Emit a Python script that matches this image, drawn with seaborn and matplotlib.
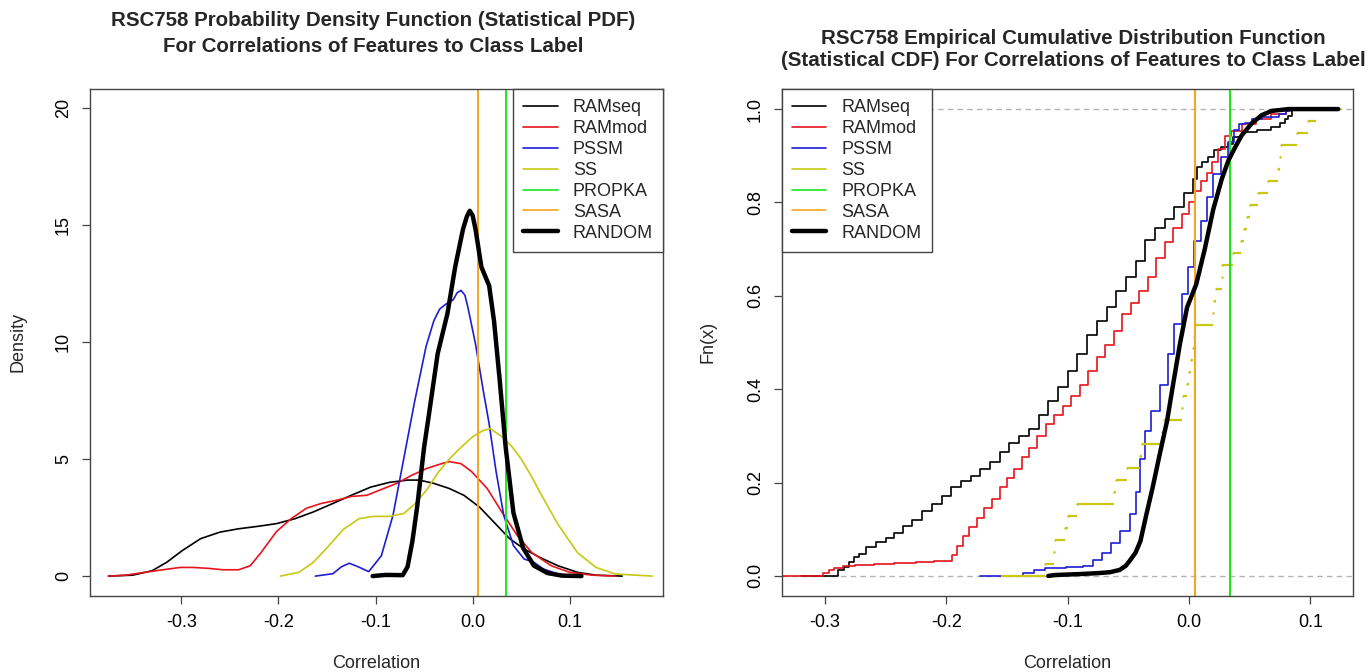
import matplotlib
matplotlib.use("Agg")
import matplotlib.pyplot as plt
from matplotlib.lines import Line2D
import pandas as pd
import seaborn as sns

# ---- density curves (left panel) ----
pdf_ramseq_x = [-0.375, -0.350, -0.330, -0.315, -0.299, -0.280, -0.260, -0.241, -0.222, -0.202,
                -0.183, -0.164, -0.144, -0.125, -0.105, -0.086, -0.067, -0.055, -0.040, -0.024,
                -0.009, 0.007, 0.022, 0.038, 0.053, 0.069, 0.088, 0.108, 0.127, 0.154]
pdf_ramseq_y = [0.0, 0.04, 0.23, 0.59, 1.09, 1.6, 1.88, 2.02, 2.12, 2.24,
                2.45, 2.74, 3.1, 3.45, 3.8, 4.0, 4.1, 4.1, 3.96, 3.74,
                3.45, 2.95, 2.3, 1.6, 1.16, 0.8, 0.44, 0.16, 0.04, 0.0]

pdf_rammod_x = [-0.375, -0.357, -0.338, -0.319, -0.301, -0.288, -0.272, -0.257, -0.241, -0.229,
                -0.218, -0.202, -0.187, -0.171, -0.156, -0.140, -0.125, -0.109, -0.094, -0.078,
                -0.063, -0.047, -0.032, -0.024, -0.012, -0.001, 0.015, 0.030, 0.046, 0.061,
                0.081, 0.100, 0.123, 0.147]
pdf_rammod_y = [0.0, 0.04, 0.16, 0.27, 0.37, 0.37, 0.33, 0.27, 0.27, 0.44,
                1.0, 1.9, 2.45, 2.9, 3.1, 3.24, 3.4, 3.45, 3.7, 3.96,
                4.3, 4.6, 4.8, 4.89, 4.8, 4.46, 3.74, 2.74, 1.73, 1.0,
                0.44, 0.16, 0.04, 0.0]

pdf_pssm_x = [-0.162, -0.144, -0.135, -0.127, -0.118, -0.107, -0.094, -0.082, -0.071, -0.060,
              -0.048, -0.040, -0.034, -0.028, -0.020, -0.016, -0.012, -0.008, -0.005, 0.003,
              0.011, 0.017, 0.024, 0.032, 0.042, 0.053, 0.063, 0.073, 0.088, 0.108]
pdf_pssm_y = [0.0, 0.1, 0.4, 0.55, 0.4, 0.19, 0.87, 2.6, 5.0, 7.4,
              9.8, 10.9, 11.4, 11.6, 11.8, 12.1, 12.2, 12.0, 11.5, 9.9,
              7.9, 6.5, 4.5, 2.6, 1.3, 0.73, 0.59, 0.3, 0.09, 0.0]

pdf_ss_x = [-0.198, -0.179, -0.164, -0.148, -0.133, -0.117, -0.102, -0.086, -0.071, -0.059,
            -0.047, -0.036, -0.024, -0.012, 0.0, 0.010, 0.018, 0.030, 0.040, 0.050,
            0.060, 0.069, 0.088, 0.108, 0.127, 0.147, 0.185]
pdf_ss_y = [0.0, 0.16, 0.59, 1.3, 2.0, 2.45, 2.55, 2.55, 2.67, 3.1,
            3.7, 4.4, 5.0, 5.5, 5.95, 6.2, 6.3, 5.96, 5.55, 5.0,
            4.3, 3.6, 2.2, 1.0, 0.37, 0.09, 0.0]

pdf_random_x = [-0.103, -0.090, -0.072, -0.067, -0.062, -0.057, -0.050, -0.045, -0.036, -0.026,
                -0.018, -0.010, -0.006, -0.003, 0.000, 0.003, 0.009, 0.013, 0.017, 0.022,
                0.028, 0.034, 0.042, 0.052, 0.063, 0.077, 0.092, 0.112]
pdf_random_y = [0.0, 0.05, 0.04, 0.4, 1.5, 3.0, 5.5, 6.9, 9.5, 11.2,
                13.2, 14.8, 15.35, 15.6, 15.4, 14.8, 13.2, 12.8, 12.4, 10.9,
                8.3, 5.5, 2.7, 1.2, 0.45, 0.13, 0.02, 0.0]

# single-value features, drawn as vertical lines
propka_corr = 0.034
sasa_corr = 0.005

# ---- empirical CDF knots (right panel) ----
cdf_ramseq_x = [-0.320, -0.289, -0.284, -0.280, -0.276, -0.272, -0.266, -0.258, -0.250, -0.243,
                -0.236, -0.228, -0.220, -0.212, -0.204, -0.196, -0.188, -0.180, -0.172, -0.164,
                -0.156, -0.148, -0.140, -0.132, -0.124, -0.116, -0.108, -0.100, -0.092, -0.084,
                -0.076, -0.068, -0.060, -0.052, -0.044, -0.036, -0.028, -0.020, -0.012, -0.004,
                0.003, 0.007, 0.011, 0.016, 0.021, 0.026, 0.032, 0.036, 0.044, 0.056,
                0.068, 0.075, 0.079, 0.082, 0.085, 0.115]
cdf_ramseq_f = [0.0, 0.012, 0.02, 0.03, 0.04, 0.048, 0.062, 0.072, 0.082, 0.092,
                0.106, 0.12, 0.138, 0.155, 0.172, 0.19, 0.203, 0.215, 0.228, 0.245,
                0.265, 0.285, 0.30, 0.315, 0.345, 0.375, 0.405, 0.44, 0.475, 0.515,
                0.545, 0.575, 0.61, 0.64, 0.675, 0.72, 0.745, 0.765, 0.79, 0.82,
                0.85, 0.875, 0.886, 0.898, 0.912, 0.918, 0.925, 0.94, 0.951, 0.956,
                0.962, 0.970, 0.979, 0.986, 1.0, 1.0]

cdf_rammod_x = [-0.345, -0.302, -0.297, -0.293, -0.285, -0.275, -0.260, -0.243, -0.225, -0.210,
                -0.198, -0.195, -0.191, -0.186, -0.181, -0.175, -0.169, -0.162, -0.156, -0.150,
                -0.144, -0.138, -0.132, -0.125, -0.118, -0.111, -0.104, -0.097, -0.090, -0.083,
                -0.076, -0.069, -0.062, -0.055, -0.048, -0.041, -0.034, -0.027, -0.020, -0.013,
                -0.006, 0.000, 0.005, 0.010, 0.015, 0.019, 0.024, 0.030, 0.035, 0.044,
                0.055, 0.068, 0.080, 0.082, 0.112]
cdf_rammod_f = [0.0, 0.006, 0.012, 0.018, 0.021, 0.023, 0.025, 0.027, 0.029, 0.031,
                0.033, 0.045, 0.065, 0.085, 0.105, 0.125, 0.145, 0.165, 0.19, 0.21,
                0.23, 0.255, 0.275, 0.30, 0.325, 0.345, 0.365, 0.385, 0.41, 0.44,
                0.47, 0.495, 0.525, 0.56, 0.585, 0.61, 0.64, 0.68, 0.715, 0.745,
                0.775, 0.80, 0.825, 0.845, 0.862, 0.886, 0.914, 0.943, 0.953, 0.968,
                0.979, 0.989, 0.996, 1.0, 1.0]

cdf_pssm_x = [-0.172, -0.137, -0.128, -0.119, -0.101, -0.087, -0.079, -0.072, -0.064, -0.057,
              -0.049, -0.044, -0.040, -0.036, -0.031, -0.024, -0.017, -0.012, -0.006, -0.001,
              0.004, 0.0096, 0.015, 0.020, 0.026, 0.032, 0.037, 0.041, 0.046, 0.052,
              0.060, 0.074, 0.080, 0.083, 0.100]
cdf_pssm_f = [0.0, 0.006, 0.012, 0.016, 0.019, 0.021, 0.035, 0.05, 0.07, 0.097,
              0.133, 0.18, 0.25, 0.31, 0.354, 0.41, 0.476, 0.54, 0.604, 0.661,
              0.718, 0.761, 0.811, 0.86, 0.897, 0.93, 0.955, 0.968, 0.970, 0.979,
              0.982, 0.989, 0.996, 1.0, 1.0]

# SS has few values: the jump positions of its step function
cdf_ss_jumps = [-0.119, -0.111, -0.1105, -0.102, -0.100, -0.092, -0.062, -0.060, -0.051, -0.040,
                -0.039, -0.022, -0.021, -0.006, -0.005, -0.002, 0.000, 0.002, 0.003, 0.004,
                0.005, 0.020, 0.021, 0.022, 0.027, 0.0275, 0.036, 0.043, 0.045, 0.048,
                0.050, 0.057, 0.065, 0.073, 0.075, 0.076, 0.089, 0.098, 0.105]
cdf_ss_span = [-0.155, 0.125]

cdf_random_x = [-0.116, -0.110, -0.090, -0.075, -0.065, -0.057, -0.052, -0.049, -0.044, -0.040,
                -0.035, -0.030, -0.024, -0.018, -0.013, -0.0074, -0.0016, 0.006, 0.013, 0.020,
                0.027, 0.0325, 0.038, 0.0435, 0.052, 0.060, 0.068, 0.082, 0.123]
cdf_random_f = [0.0, 0.002, 0.004, 0.006, 0.008, 0.013, 0.022, 0.032, 0.05, 0.075,
                0.133, 0.189, 0.262, 0.333, 0.412, 0.498, 0.575, 0.625, 0.70, 0.785,
                0.85, 0.89, 0.918, 0.944, 0.970, 0.987, 0.996, 1.0, 1.0]

legend_names = ["RAMseq", "RAMmod", "PSSM", "SS", "PROPKA", "SASA", "RANDOM"]
colors = {"RAMseq": "black", "RAMmod": "#E8141C", "PSSM": "#1E1ED2", "SS": "#C8C814",
          "PROPKA": "#1EE61E", "SASA": "#F5A623", "RANDOM": "black"}
THIN = 1.2
THICK = 3.2

sns.set_theme(style="white")
plt.rcParams["font.family"] = ["Liberation Sans", "DejaVu Sans"]

fig = plt.figure(figsize=(13.69, 6.72), dpi=100)
ax1 = fig.add_axes([90 / 1369, 1 - 596 / 672, 573 / 1369, 507 / 672])
ax2 = fig.add_axes([782 / 1369, 1 - 596 / 672, 571 / 1369, 507 / 672])


def style_axes(ax):
    for sp in ax.spines.values():
        sp.set_color("#444444")
        sp.set_linewidth(1.0)
    ax.tick_params(axis="both", which="major", direction="out", length=6, width=0.9,
                   color="#444444", labelsize=13, labelcolor="black", pad=7,
                   bottom=True, left=True)
    for lbl in ax.get_yticklabels():
        lbl.set_rotation(90)
        lbl.set_va("center")


def add_legend(ax, loc):
    handles = [Line2D([], [], color=colors[n], lw=THICK if n == "RANDOM" else THIN)
               for n in legend_names]
    leg = ax.legend(handles, legend_names, loc=loc, borderaxespad=0, fontsize=13,
                    handlelength=1.9, handletextpad=0.85, labelspacing=0.22,
                    borderpad=0.55, fancybox=False, framealpha=1, edgecolor="#444444")
    leg.get_frame().set_linewidth(1.0)


# ---- left: density ----
pdf_sets = [("RAMseq", pdf_ramseq_x, pdf_ramseq_y), ("RAMmod", pdf_rammod_x, pdf_rammod_y),
            ("PSSM", pdf_pssm_x, pdf_pssm_y), ("SS", pdf_ss_x, pdf_ss_y)]
for name, xs, ys in pdf_sets:
    df = pd.DataFrame({"x": xs, "y": ys})
    sns.lineplot(data=df, x="x", y="y", ax=ax1, color=colors[name], lw=THIN,
                 estimator=None, sort=False)
ax1.axvline(propka_corr, color=colors["PROPKA"], lw=THIN + 0.2)
ax1.axvline(sasa_corr, color=colors["SASA"], lw=THIN + 0.2)
df = pd.DataFrame({"x": pdf_random_x, "y": pdf_random_y})
sns.lineplot(data=df, x="x", y="y", ax=ax1, color=colors["RANDOM"], lw=THICK,
             estimator=None, sort=False)

ax1.set_xlim(-0.394, 0.196)
ax1.set_ylim(-0.85, 20.8)
ax1.set_xticks([-0.3, -0.2, -0.1, 0.0, 0.1])
ax1.set_xticklabels(["-0.3", "-0.2", "-0.1", "0.0", "0.1"])
ax1.set_yticks([0, 5, 10, 15, 20])
ax1.set_yticklabels(["0", "5", "10", "15", "20"])
ax1.set_xlabel("")
ax1.set_ylabel("")
style_axes(ax1)
add_legend(ax1, "upper right")

# ---- right: empirical CDF ----
ax2.axhline(0, color="#B3B3B3", lw=1.0, ls=(0, (4, 3)))
ax2.axhline(1, color="#B3B3B3", lw=1.0, ls=(0, (4, 3)))
cdf_sets = [("RAMseq", cdf_ramseq_x, cdf_ramseq_f), ("RAMmod", cdf_rammod_x, cdf_rammod_f),
            ("PSSM", cdf_pssm_x, cdf_pssm_f)]
for name, xs, fs in cdf_sets:
    df = pd.DataFrame({"x": xs, "f": fs})
    sns.lineplot(data=df, x="x", y="f", ax=ax2, color=colors[name], lw=THIN,
                 estimator=None, sort=False, drawstyle="steps-post")

n_ss = len(cdf_ss_jumps)
ss_starts = [cdf_ss_span[0]] + cdf_ss_jumps
ss_ends = cdf_ss_jumps + [cdf_ss_span[1]]
ss_levels = [k / n_ss for k in range(n_ss + 1)]
ax2.hlines(ss_levels, ss_starts, ss_ends, color=colors["SS"], lw=1.6)
sns.scatterplot(x=cdf_ss_jumps, y=ss_levels[1:], ax=ax2, color=colors["SS"], s=3,
                linewidth=0)

ax2.axvline(propka_corr, color=colors["PROPKA"], lw=THIN + 0.3)
ax2.axvline(sasa_corr, color=colors["SASA"], lw=THIN + 0.3)
df = pd.DataFrame({"x": cdf_random_x, "f": cdf_random_f})
sns.lineplot(data=df, x="x", y="f", ax=ax2, color=colors["RANDOM"], lw=THICK,
             estimator=None, sort=False)

ax2.set_xlim(-0.3355, 0.1352)
ax2.set_ylim(-0.043, 1.043)
ax2.set_xticks([-0.3, -0.2, -0.1, 0.0, 0.1])
ax2.set_xticklabels(["-0.3", "-0.2", "-0.1", "0.0", "0.1"])
ax2.set_yticks([0.0, 0.2, 0.4, 0.6, 0.8, 1.0])
ax2.set_yticklabels(["0.0", "0.2", "0.4", "0.6", "0.8", "1.0"])
ax2.set_xlabel("")
ax2.set_ylabel("")
style_axes(ax2)
add_legend(ax2, "upper left")

# ---- titles and axis labels ----
W, H = 1369, 672
tkw = dict(ha="center", va="center", fontsize=14.8, fontweight="bold")
fig.text(373 / W, 1 - 21 / H, "RSC758 Probability Density Function (Statistical PDF)", **tkw)
fig.text(373 / W, 1 - 46 / H, "For Correlations of Features to Class Label", **tkw)
fig.text(1073 / W, 1 - 38 / H, "RSC758 Empirical Cumulative Distribution Function", **tkw)
fig.text(1073 / W, 1 - 61 / H, "(Statistical CDF) For Correlations of Features to Class Label", **tkw)

lkw = dict(ha="center", va="center", fontsize=13)
fig.text(376 / W, 1 - 663 / H, "Correlation", **lkw)
fig.text(1067 / W, 1 - 663 / H, "Correlation", **lkw)
fig.text(18 / W, 1 - 342 / H, "Density", rotation=90, **lkw)
fig.text(708 / W, 1 - 342 / H, "Fn(x)", rotation=90, **lkw)

fig.savefig("out.png", dpi=100)
plt.close(fig)
